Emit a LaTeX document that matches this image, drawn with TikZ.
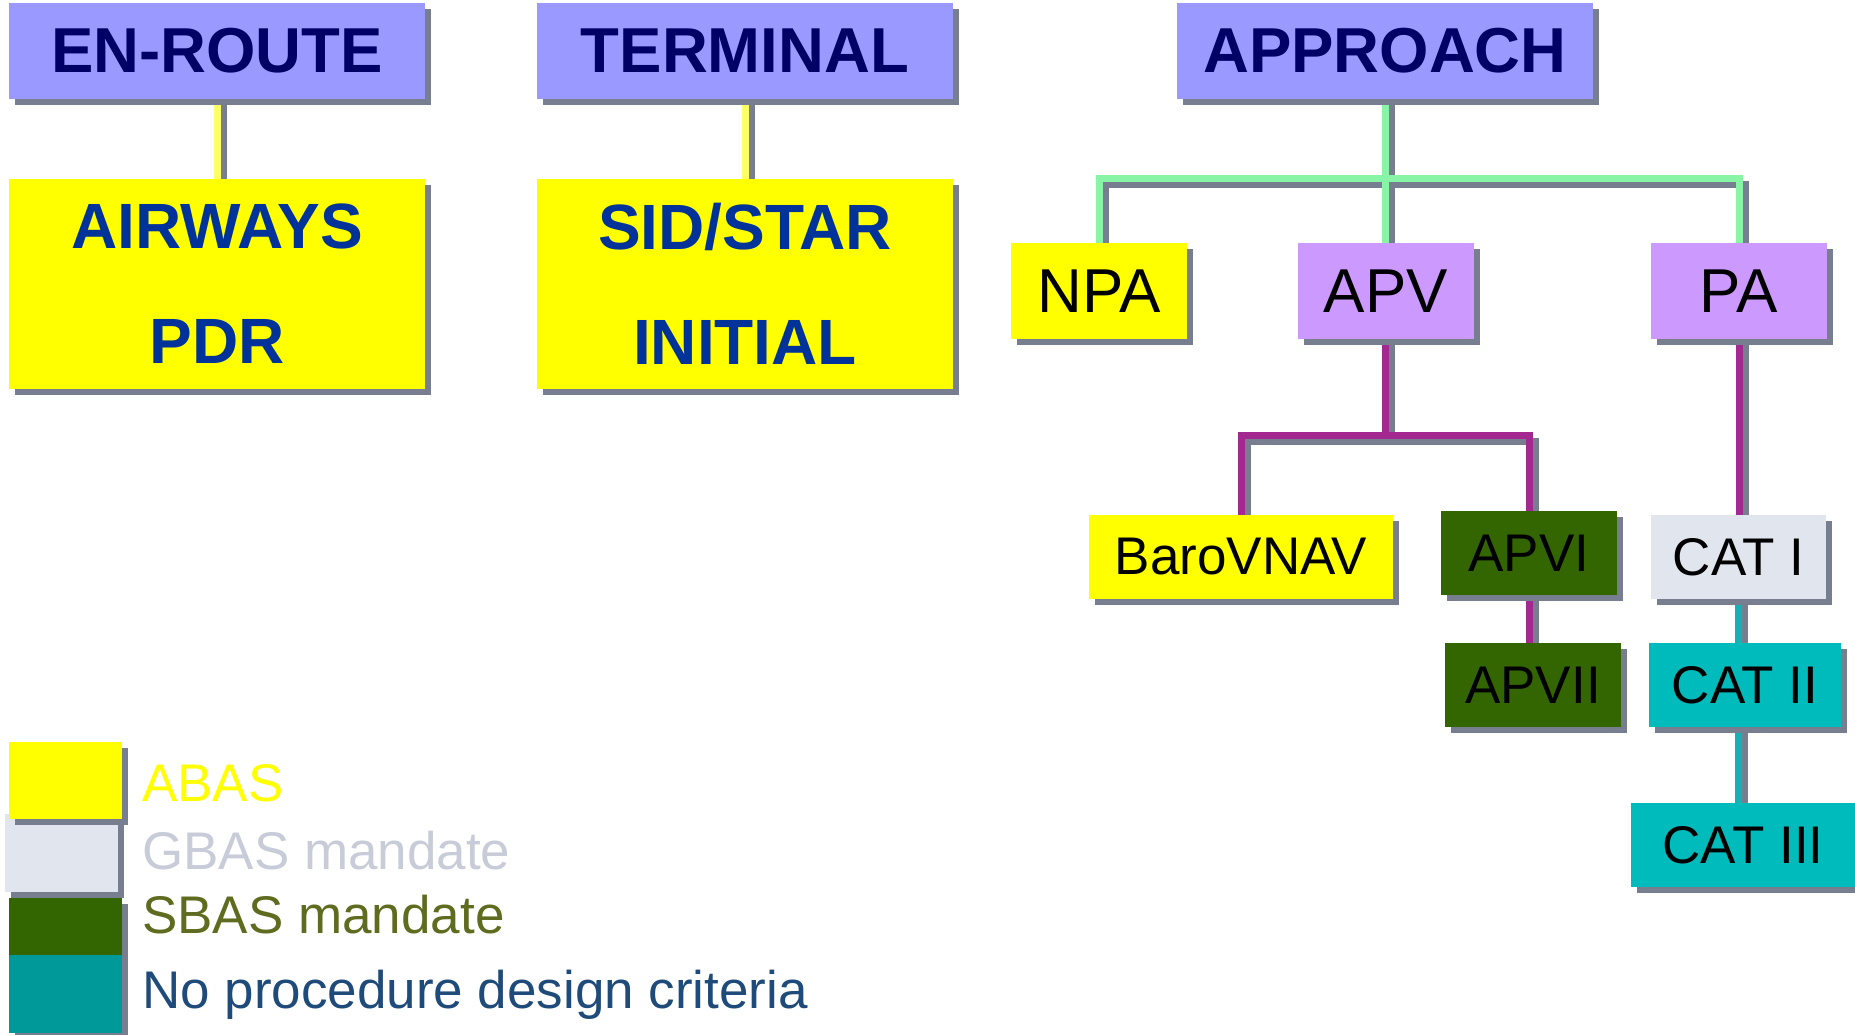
\documentclass[tikz,border=0pt]{standalone}
\usepackage{fontspec}
\setmainfont{Liberation Sans}
\usetikzlibrary{shadows,backgrounds}

\definecolor{hdr}{HTML}{9999FF}
\definecolor{hdrtxt}{HTML}{000066}
\definecolor{yel}{HTML}{FFFF00}
\definecolor{bluetxt}{HTML}{003399}
\definecolor{lil}{HTML}{CC99FF}
\definecolor{dgreen}{HTML}{336600}
\definecolor{lgray}{HTML}{E1E5EE}
\definecolor{tealB}{HTML}{00BBBB}
\definecolor{tealA}{HTML}{009999}
\definecolor{shd}{HTML}{767E8F}
\definecolor{cgreen}{HTML}{88F5A6}
\definecolor{cpurple}{HTML}{A3288F}
\definecolor{cyellow}{HTML}{FFFF66}
\definecolor{cteal}{HTML}{1AAFB5}
\definecolor{gbastxt}{HTML}{C8CCD8}
\definecolor{sbastxt}{HTML}{5F6B1F}
\definecolor{notxt}{HTML}{1F4B7A}

\tikzset{
  box/.style={inner sep=0pt, drop shadow={shadow xshift=6pt, shadow yshift=-6pt, opacity=1, fill=shd}},
  hdrbox/.style={box, fill=hdr, text=hdrtxt, minimum width=416pt, minimum height=96pt,
    font=\fontsize{63.5}{70}\selectfont\bfseries},
  bigbox/.style={box, fill=yel, text=bluetxt, minimum width=416pt, minimum height=210pt,
    align=center, font=\fontsize{64}{115}\selectfont\bfseries},
  midbox/.style={box, minimum width=176pt, minimum height=96pt, font=\fontsize{62}{70}\selectfont},
  lowbox/.style={box, minimum height=84pt, font=\fontsize{53}{60}\selectfont},
  legsq/.style={box, minimum width=113pt, minimum height=77pt},
  legtxt/.style={inner sep=0pt, anchor=base west, font=\fontsize{53}{60}\selectfont},
  conn/.style={line width=7pt, line join=miter},
  connshd/.style={conn, draw=shd, transform canvas={xshift=6pt,yshift=-6pt}}
}

\begin{document}
\begin{tikzpicture}[x=1pt,y=-1pt]
\useasboundingbox (0,0) rectangle (1855,1035);

% headers
\node[hdrbox] (enroute) at (217,51) {EN-ROUTE};
\node[hdrbox] (terminal) at (745,51) {TERMINAL};
\node[hdrbox] (approach) at (1385,51) {APPROACH};

% big yellow boxes
\node[bigbox] (airways) at (217,284) {AIRWAYS\\PDR};
\node[bigbox] (sidstar) at (745,284) {SID/STAR\\INITIAL};

% approach children
\node[midbox, fill=yel] (npa) at (1099,291) {NPA};
\node[midbox, fill=lil] (apv) at (1386,291) {APV};
\node[midbox, fill=lil] (pa) at (1739,291) {PA};

% lower level
\node[lowbox, fill=yel, minimum width=304pt] (baro) at (1241,557) {BaroVNAV};
\node[lowbox, fill=dgreen, minimum width=176pt] (apvi) at (1529,553) {APVI};
\node[lowbox, fill=dgreen, minimum width=176pt] (apvii) at (1533,685) {APVII};
\node[lowbox, fill=lgray, minimum width=175pt] (cat1) at (1738.5,557) {CAT I};
\node[lowbox, fill=tealB, minimum width=192pt] (cat2) at (1745,685) {CAT II};
\node[lowbox, fill=tealB, minimum width=224pt] (cat3) at (1743,845) {CAT III};

\coordinate (abar) at (1385,179);
\coordinate (pbar) at (1385,435);

\begin{scope}[on background layer]
  % shadows of connectors
  \draw[connshd] (enroute.south) -- (airways.north);
  \draw[connshd] (terminal.south) -- (sidstar.north);
  \draw[connshd] (approach.south) -- (approach.south |- apv.north);
  \draw[connshd] (npa.north) |- (abar) -| (pa.north);
  \draw[connshd] (pbar |- apv.south) -- (pbar);
  \draw[connshd] (baro.north) |- (pbar) -| (apvi.north);
  \draw[connshd] (apvi.south) -- (apvi.south |- apvii.north);
  \draw[connshd] (pa.south) -- (pa.south |- cat1.north);
  \draw[connshd] (cat1.south) -- (cat1.south |- cat2.north);
  \draw[connshd] (cat1.south |- cat2.south) -- (cat1.south |- cat3.north);
  % coloured connectors
  \draw[conn, draw=cyellow] (enroute.south) -- (airways.north);
  \draw[conn, draw=cyellow] (terminal.south) -- (sidstar.north);
  \draw[conn, draw=cgreen] (approach.south) -- (approach.south |- apv.north);
  \draw[conn, draw=cgreen] (npa.north) |- (abar) -| (pa.north);
  \draw[conn, draw=cpurple] (pbar |- apv.south) -- (pbar);
  \draw[conn, draw=cpurple] (baro.north) |- (pbar) -| (apvi.north);
  \draw[conn, draw=cpurple] (apvi.south) -- (apvi.south |- apvii.north);
  \draw[conn, draw=cpurple] (pa.south) -- (pa.south |- cat1.north);
  \draw[conn, draw=cteal] (cat1.south) -- (cat1.south |- cat2.north);
  \draw[conn, draw=cteal] (cat1.south |- cat2.south) -- (cat1.south |- cat3.north);
\end{scope}

% legend
\node[legsq, fill=lgray, minimum height=78pt] (lgG) at (61.5,853) {};
\node[legsq, fill=yel] (lgA) at (65.5,780.5) {};
\node[legsq, fill=dgreen] (lgS) at (65.5,936.5) {};
\node[legsq, fill=tealA, minimum height=78pt] (lgN) at (65.5,994) {};

\node[legtxt, text=yel] (tA) at (142,801) {ABAS};
\node[legtxt, text=gbastxt] (tG) at (142,869) {GBAS mandate};
\node[legtxt, text=sbastxt] (tS) at (142,933) {SBAS mandate};
\node[legtxt, text=notxt] (tN) at (142,1008) {No procedure design criteria};
\end{tikzpicture}
\end{document}
